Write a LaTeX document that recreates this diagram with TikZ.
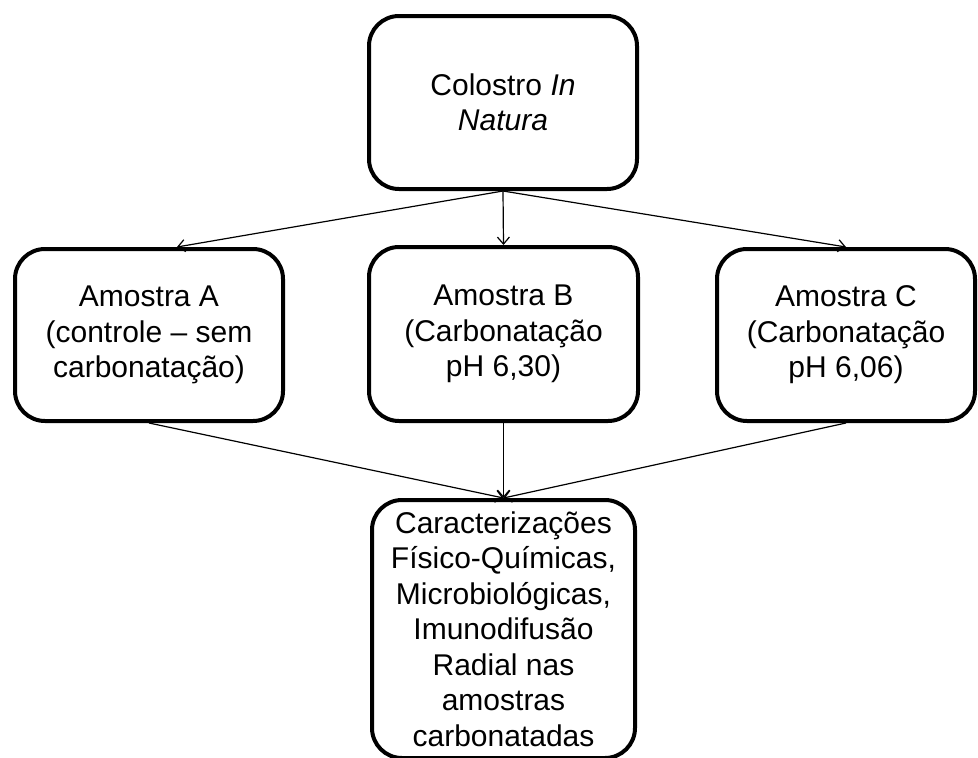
\documentclass[tikz,border=0pt]{standalone}
\usepackage{fontspec}
\setmainfont{Liberation Sans}
\usetikzlibrary{arrows.meta}

\begin{document}
\begin{tikzpicture}[x=1pt,y=-1pt,
  box/.style={draw,rounded corners=30pt,line width=4pt,align=center,
    inner sep=2pt,font=\fontsize{30}{35.5}\selectfont},
  arr/.style={line width=1.2pt,-{Straight Barb[length=7pt,width=12pt]}}]
\useasboundingbox (0,0) rectangle (978,758);
% top box
\node[box,minimum width=268,minimum height=173] (colostro) at (503,102.5)
  {Colostro \textit{In}\\\textit{Natura}};
% the three samples
\node[box,minimum width=268,minimum height=172] (amostraA) at (149,335)
  {Amostra A\\(controle – sem\\carbonatação)};
\node[box,minimum width=269,minimum height=174] (amostraB) at (503.5,334)
  {Amostra B\\(Carbonatação\\pH 6,30)};
\node[box,minimum width=258,minimum height=172] (amostraC) at (846,335)
  {Amostra C\\(Carbonatação\\pH 6,06)};
% analyses, bottom box runs off the page
\node[box,minimum width=263,minimum height=258,inner sep=0pt] (analises) at (503.5,629)
  {Caracterizações\\Físico-Químicas,\\Microbiológicas,\\Imunodifusão\\Radial nas\\amostras\\carbonatadas};
% connectors
\draw[arr] (colostro.south) -- ([xshift=28pt]amostraA.north);
\draw[arr] (colostro.south) -- (amostraB.north);
\draw[arr] (colostro.south) -- (amostraC.north);
\draw[arr] (amostraA.south) -- (analises.north);
\draw[arr] (amostraB.south) -- (analises.north);
\draw[arr] (amostraC.south) -- (analises.north);
\end{tikzpicture}
\end{document}
